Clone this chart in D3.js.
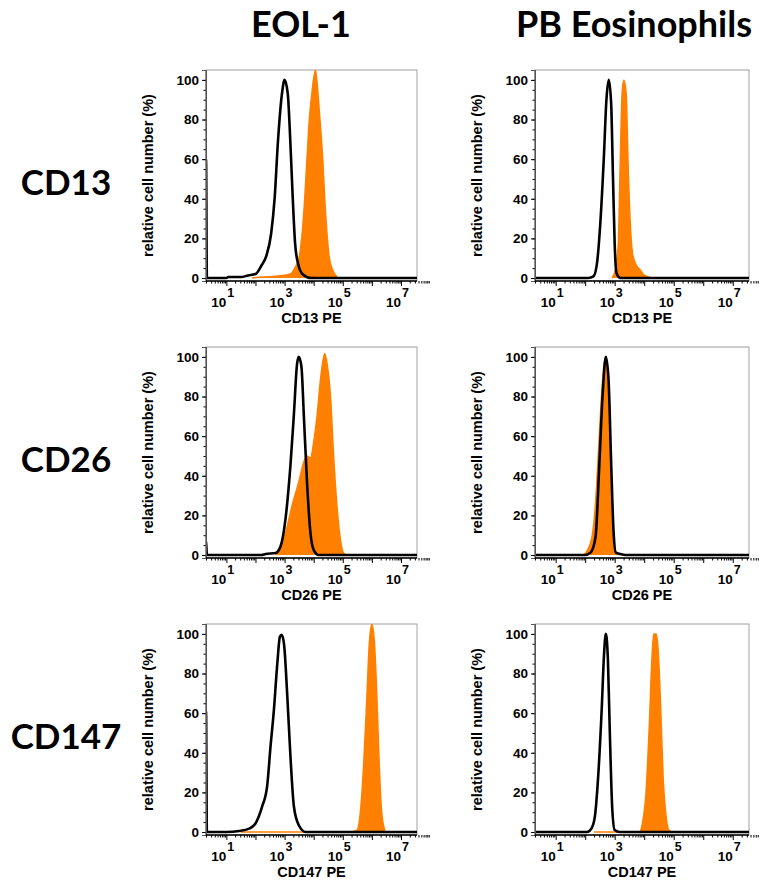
<!DOCTYPE html>
<html>
<head>
<meta charset="utf-8">
<script src="https://cdn.jsdelivr.net/npm/d3@7"></script>
<style>
  body { margin: 0; background: #fff; }
  svg { display: block; }
</style>
</head>
<body>
<svg id="chart"></svg>
<script>
// column / row headings
let columns = ["EOL-1", "PB Eosinophils"];
let markers = ["CD13", "CD26", "CD147"];
let xTitles = ["CD13 PE", "CD26 PE", "CD147 PE"];
let yTitle = "relative cell number (%)";
let yTickValues = [0, 20, 40, 60, 80, 100];
let xLabelExps = [1, 3, 5, 7];

// histograms: [log10 PE intensity, % of max]
// black = control, orange = stained
let eolCD13Control = [[0.3,0],[0.301,60],[0.33,0],[1.0,0],[1.07,0.5],[1.5,0.5],[1.75,1.3],[2.0,2],[2.2,6.2],[2.37,11],[2.54,22.6],[2.66,40.6],[2.77,68.4],[2.91,93],[3.0,100],[3.11,93],[3.2,68],[3.28,40.6],[3.36,17.7],[3.46,7.5],[3.63,1.8],[3.91,0],[7.55,0]];
let eolCD13Stained = [[1.87,0],[2.2,0.5],[2.8,1],[3.2,2],[3.34,4.8],[3.51,11.1],[3.6,22],[3.68,37.4],[3.77,60.3],[3.85,80],[3.95,95],[4.06,105],[4.12,98],[4.19,84.9],[4.31,60.3],[4.39,37.4],[4.53,11.1],[4.65,4],[4.76,1.3],[4.85,0]];

let pbCD13Control = [[0.3,0],[2.11,0],[2.28,0.8],[2.4,7.4],[2.51,27],[2.63,60],[2.72,90],[2.8,100],[2.88,88],[2.94,52],[3.0,17],[3.06,2.5],[3.19,0],[7.55,0]];
let pbCD13Stained = [[2.91,0],[3.02,4],[3.12,17],[3.19,60],[3.25,93],[3.31,100],[3.39,93],[3.45,60],[3.53,27],[3.62,11],[3.76,5.8],[3.87,4],[3.99,1.6],[4.27,0]];

let eolCD26Control = [[0.3,0],[0.301,7],[0.33,0],[2.2,0],[2.35,0.5],[2.69,1],[2.86,4.3],[3.03,18],[3.2,45],[3.32,71],[3.43,96.6],[3.49,100],[3.58,95],[3.66,71],[3.77,37],[3.89,11],[4.0,2.6],[4.17,0],[7.55,0]];
let eolCD26Stained = [[2.69,0],[2.8,2.6],[3.03,11],[3.26,25],[3.49,37],[3.66,47],[3.77,50],[3.89,49],[4.0,57],[4.12,71],[4.23,88],[4.38,101.7],[4.46,96.6],[4.58,79.5],[4.69,48.7],[4.8,24.8],[4.92,7.7],[5.03,0.9],[5.15,0]];

let pbCD26Control = [[0.3,0],[2.0,0],[2.18,1.2],[2.35,9],[2.48,46],[2.59,80.7],[2.7,100],[2.79,89],[2.88,46.5],[2.96,12.3],[3.04,1.2],[3.19,0.5],[3.36,0],[7.55,0]];
let pbCD26Stained = [[1.95,0],[2.06,2],[2.23,9],[2.35,26],[2.46,55],[2.57,84],[2.68,100],[2.77,89],[2.85,55],[2.93,16],[3.02,2],[3.13,0]];

let eolCD147Control = [[0.3,0],[0.301,61],[0.33,0],[1.0,0],[1.44,0.5],[1.78,1.7],[2.0,4.3],[2.23,12.9],[2.4,23],[2.52,43.7],[2.63,61],[2.75,85],[2.84,98.6],[2.9,99.5],[2.98,95],[3.09,69.5],[3.2,38.6],[3.32,12.9],[3.49,3.4],[3.72,0],[7.55,0]];
let eolCD147Stained = [[1.5,0],[3.5,0],[5.26,0],[5.49,0.9],[5.6,9.4],[5.72,35],[5.83,69],[5.91,95],[6.0,105],[6.09,95],[6.17,69],[6.25,35],[6.34,9.4],[6.46,0]];

let pbCD147Control = [[0.3,0],[2.06,0],[2.22,2],[2.33,8],[2.44,28],[2.56,62],[2.64,90],[2.7,100],[2.77,87],[2.83,53],[2.92,11],[3.0,1],[3.17,0],[7.55,0]];
let pbCD147Stained = [[2.3,0],[3.0,0],[3.83,0],[3.94,4.5],[4.06,19.7],[4.17,53],[4.26,87],[4.32,100],[4.41,100],[4.48,90],[4.56,62],[4.64,28],[4.74,8],[4.83,1],[4.94,0]];

let panels = [
  {row: 0, col: 0, control: eolCD13Control, stained: eolCD13Stained},
  {row: 0, col: 1, control: pbCD13Control, stained: pbCD13Stained},
  {row: 1, col: 0, control: eolCD26Control, stained: eolCD26Stained},
  {row: 1, col: 1, control: pbCD26Control, stained: pbCD26Stained},
  {row: 2, col: 0, control: eolCD147Control, stained: eolCD147Stained},
  {row: 2, col: 1, control: pbCD147Control, stained: pbCD147Stained}
];

const width = 759;
const height = 882;
const colLeft = [206, 535];
const colWidth = [211, 214];
const rowTop = [70, 347, 624];
const plotHeight = 211;

let svg = d3.select("svg#chart")
  .attr("width", width)
  .attr("height", height);

const axisFont = "'Liberation Sans', Arial, sans-serif";
const titleFont = "Lato, 'Open Sans', sans-serif";

// column headings
let colCenter = [301, 634];
svg.selectAll("text.col-title")
  .data(columns)
  .enter().append("text")
  .attr("class", "col-title")
  .attr("x", (d, i) => colCenter[i])
  .attr("y", 37)
  .attr("text-anchor", "middle")
  .style("font-family", titleFont)
  .style("font-weight", 700)
  .style("font-size", "36px")
  .text(d => d);

// row headings
let rowLabelY = [195, 472, 749];
svg.selectAll("text.row-title")
  .data(markers)
  .enter().append("text")
  .attr("class", "row-title")
  .attr("x", 66)
  .attr("y", (d, i) => rowLabelY[i])
  .attr("text-anchor", "middle")
  .style("font-family", titleFont)
  .style("font-weight", 700)
  .style("font-size", "35px")
  .text(d => d);

// minor ticks on the log axis
let logTicks = [];
for (let e = 0; e <= 7; e++) {
  for (let m = 1; m <= 9; m++) {
    logTicks.push(m * Math.pow(10, e));
  }
}

panels.forEach(function(p, idx) {
  let w = colWidth[p.col];
  let g = svg.append("g")
    .attr("transform", "translate(" + colLeft[p.col] + "," + rowTop[p.row] + ")");

  let x = d3.scaleLog()
    .domain([Math.pow(10, 0.3), Math.pow(10, 7.55)])
    .range([0, w]);

  let y = d3.scaleLinear()
    .domain([-1.5, 105])
    .range([plotHeight, 0]);

  g.append("clipPath").attr("id", "clip" + idx)
    .append("rect").attr("width", w).attr("height", plotHeight);

  // frame (top / right grey)
  g.append("rect")
    .attr("width", w).attr("height", plotHeight)
    .attr("fill", "none")
    .attr("stroke", "#a0a0a0")
    .attr("stroke-width", 1);

  let plot = g.append("g").attr("clip-path", "url(#clip" + idx + ")");

  let area = d3.area()
    .x(d => x(Math.pow(10, d[0])))
    .y0(y(0))
    .y1(d => y(d[1]))
    .curve(d3.curveMonotoneX);

  let line = d3.line()
    .x(d => x(Math.pow(10, d[0])))
    .y(d => y(d[1]))
    .curve(d3.curveMonotoneX);

  plot.append("path")
    .datum(p.stained)
    .attr("d", area)
    .attr("fill", "#ff8000");

  plot.append("path")
    .datum(p.stained)
    .attr("d", line)
    .attr("fill", "none")
    .attr("stroke", "#ff8000")
    .attr("stroke-width", 1.5);

  plot.append("path")
    .datum(p.control)
    .attr("d", line)
    .attr("fill", "none")
    .attr("stroke", "#000")
    .attr("stroke-width", 2.6)
    .attr("stroke-linejoin", "round");

  // y axis
  let yMinor = d3.range(0, 101, 5);
  g.append("g")
    .call(d3.axisLeft(y).tickValues(yMinor).tickSize(2.5).tickFormat(""))
    .call(a => a.select(".domain").remove());

  let yAxis = g.append("g")
    .call(d3.axisLeft(y).tickValues(yTickValues).tickSize(4).tickPadding(3));
  yAxis.select(".domain").attr("stroke", "#555");
  yAxis.selectAll("text")
    .style("font-family", axisFont)
    .style("font-weight", "bold")
    .style("font-size", "13.5px")
    .attr("fill", "#000");

  g.append("line")
    .attr("x1", 0).attr("x2", 0)
    .attr("y1", 0).attr("y2", plotHeight)
    .attr("stroke", "#555").attr("stroke-width", 1);

  // x axis
  let xAxis = g.append("g")
    .attr("transform", "translate(0," + plotHeight + ")")
    .call(d3.axisBottom(x).tickValues(logTicks.filter(v => v >= x.domain()[0]))
      .tickSize(2.5).tickFormat(""));
  xAxis.selectAll(".tick line")
    .attr("y2", d => Math.abs(Math.log10(d) % 1) < 1e-9 ? 5 : 2.5);
  xAxis.select(".domain").remove();

  g.append("line")
    .attr("x1", 0).attr("x2", w)
    .attr("y1", plotHeight).attr("y2", plotHeight)
    .attr("stroke", "#000").attr("stroke-width", 1.6);

  g.selectAll("text.xlab")
    .data(xLabelExps)
    .enter().append("text")
    .attr("class", "xlab")
    .attr("x", e => x(Math.pow(10, e)))
    .attr("y", plotHeight + 26)
    .attr("text-anchor", "end")
    .style("font-family", axisFont)
    .style("font-weight", "bold")
    .style("font-size", "13.5px")
    .text("10");
  g.selectAll("text.xexp")
    .data(xLabelExps)
    .enter().append("text")
    .attr("class", "xexp")
    .attr("x", e => x(Math.pow(10, e)) + 1)
    .attr("y", plotHeight + 16)
    .style("font-family", axisFont)
    .style("font-weight", "bold")
    .style("font-size", "12.5px")
    .text(e => e);

  // axis titles
  g.append("text")
    .attr("x", w / 2)
    .attr("y", plotHeight + 42)
    .attr("text-anchor", "middle")
    .style("font-family", axisFont)
    .style("font-weight", "bold")
    .style("font-size", "14.5px")
    .text(xTitles[p.row]);

  g.append("text")
    .attr("transform", "translate(-53," + (plotHeight / 2) + ") rotate(-90)")
    .attr("text-anchor", "middle")
    .style("font-family", axisFont)
    .style("font-weight", "bold")
    .style("font-size", "14.5px")
    .text(yTitle);
});
</script>
</body>
</html>
